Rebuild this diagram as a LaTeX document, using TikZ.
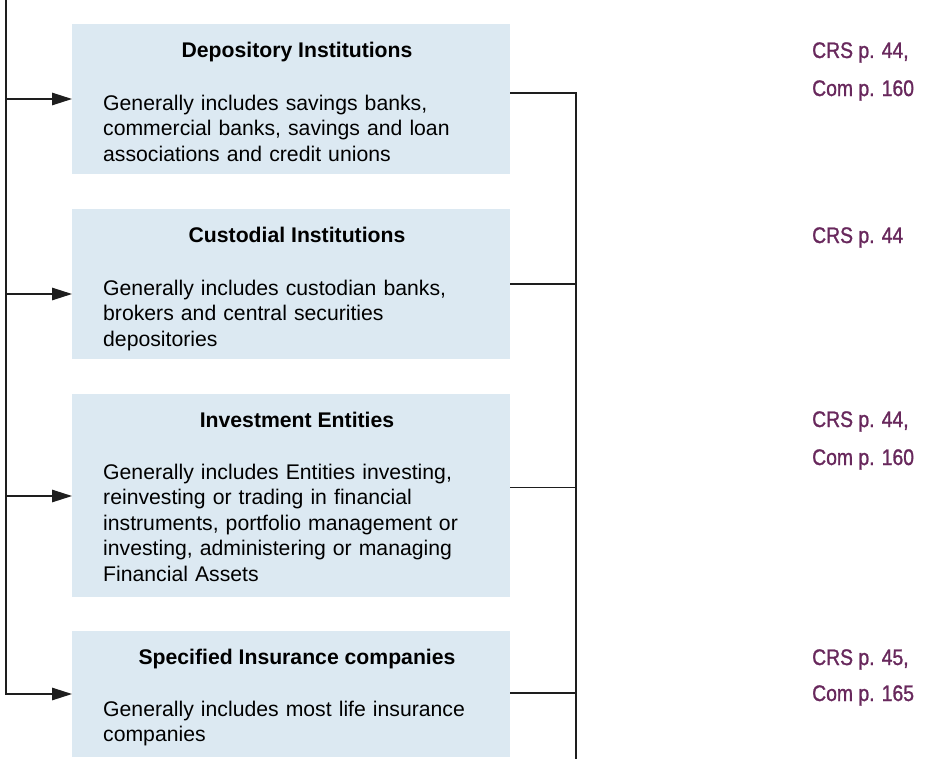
\documentclass[tikz,border=0pt]{standalone}
\usepackage{fontspec}
\setmainfont{Liberation Sans}
\newfontfamily\condfont{Liberation Sans}[FakeStretch=0.86,FakeBold=1.2]
\usetikzlibrary{arrows.meta}
\definecolor{boxblue}{RGB}{220,233,242}
\definecolor{refpurple}{RGB}{104,40,92}
\definecolor{linegray}{RGB}{30,30,30}
\tikzset{
  box/.style={fill=boxblue, draw=none, anchor=north west, minimum width=438bp, inner sep=0pt, outer sep=0pt},
  head/.style={anchor=base, font=\fontsize{21.2bp}{25.5bp}\selectfont\bfseries, inner sep=0pt},
  body/.style={anchor=base west, text width=400bp, align=left, font=\fontsize{21.2bp}{25.5bp}\selectfont, inner sep=0pt},
  refnote/.style={anchor=base west, font=\condfont\fontsize{22.5bp}{26bp}\selectfont, text=refpurple, inner sep=0pt},
  conn/.style={draw=linegray, line width=1.3bp},
  arr/.style={conn, -{Triangle[length=20bp,width=12.5bp]}},
}
\begin{document}
\begin{tikzpicture}[x=1bp,y=-1bp]
\useasboundingbox (0,0) rectangle (925,759);
% boxes
\node[box, minimum height=150bp] (b1) at (72,24) {};
\node[box, minimum height=150bp] (b2) at (72,209) {};
\node[box, minimum height=203bp] (b3) at (72,394) {};
\node[box, minimum height=126bp] (b4) at (72,631) {};
% headings
\node[head] (h1) at (297,57.5) {Depository Institutions};
\node[head] (h2) at (297,242.5) {Custodial Institutions};
\node[head] (h3) at (297,427.5) {Investment Entities};
\node[head] (h4) at (297,664.5) {Specified Insurance companies};
% bodies
\node[body] (t1) at (103,110) {Generally includes savings banks,\\commercial banks, savings and loan\\associations and credit unions};
\node[body] (t2) at (103,295) {Generally includes custodian banks,\\brokers and central securities\\depositories};
\node[body] (t3) at (103,479) {Generally includes Entities investing,\\reinvesting or trading in financial\\instruments, portfolio management or\\investing, administering or managing\\Financial Assets};
\node[body] (t4) at (103,716) {Generally includes most life insurance\\companies};
% references
\node[refnote] (r1a) at (812,58) {CRS p. 44,};
\node[refnote] (r1b) at (812,96) {Com p. 160};
\node[refnote] (r2a) at (812,243) {CRS p. 44};
\node[refnote] (r3a) at (812,427) {CRS p. 44,};
\node[refnote] (r3b) at (812,465) {Com p. 160};
\node[refnote] (r4a) at (812,665) {CRS p. 45,};
\node[refnote] (r4b) at (812,701) {Com p. 165};
% left trunk and arrows
\coordinate (T) at (6,0);
\coordinate (L1) at (6,99);
\coordinate (L2) at (6,294);
\coordinate (L3) at (6,496);
\coordinate (L4) at (6,694);
\draw[arr] (T) -- (L4) -- (b4.west |- L4);
\draw[arr] (L1) -- (b1.west |- L1);
\draw[arr] (L2) -- (b2.west |- L2);
\draw[arr] (L3) -- (b3.west |- L3);
% right trunk
\coordinate (R1) at (576,93);
\coordinate (R2) at (576,284);
\coordinate (R3) at (576,487.5);
\coordinate (R4) at (576,693);
\coordinate (RB) at (576,759);
\draw[conn] (b1.east |- R1) -- (R1) -- (RB);
\draw[conn] (b2.east |- R2) -- (R2);
\draw[conn] (b3.east |- R3) -- (R3);
\draw[conn] (b4.east |- R4) -- (R4);
\end{tikzpicture}
\end{document}
